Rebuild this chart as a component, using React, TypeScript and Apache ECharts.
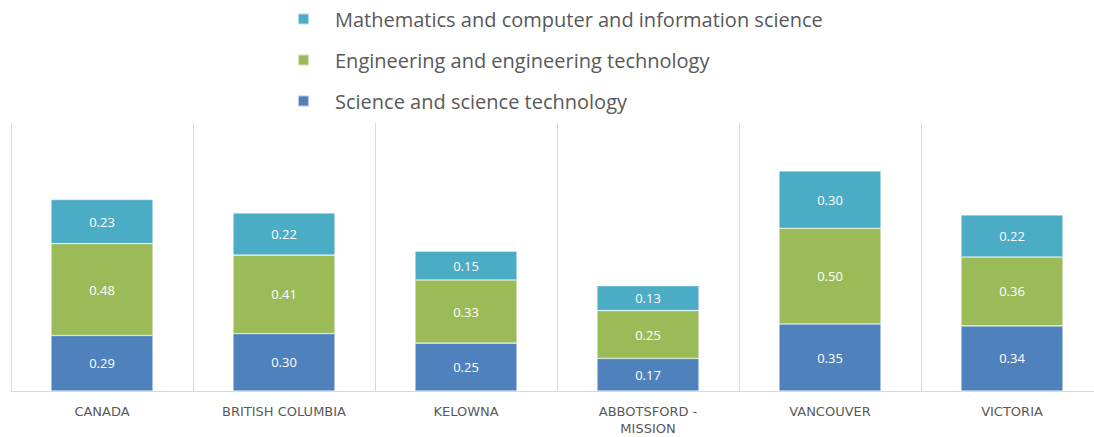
import React, { useEffect, useRef } from "react";
import * as echarts from "echarts";

const categories = ["CANADA", "BRITISH COLUMBIA", "KELOWNA", "ABBOTSFORD - MISSION", "VANCOUVER", "VICTORIA"];
const scienceValues = [0.29, 0.30, 0.25, 0.17, 0.35, 0.34];
const engineeringValues = [0.48, 0.41, 0.33, 0.25, 0.50, 0.36];
const mathValues = [0.23, 0.22, 0.15, 0.13, 0.30, 0.22];
const seriesNames = [
  "Science and science technology",
  "Engineering and engineering technology",
  "Mathematics and computer and information science",
];

const FONT = "'Open Sans', sans-serif";

export default function App() {
  const ref = useRef<HTMLDivElement>(null);
  useEffect(() => {
    if (!ref.current) return;
    const chart = echarts.init(ref.current, undefined, { renderer: "svg" });
    const mk = (name: string, data: number[], color: string) => ({
      name,
      type: "bar",
      stack: "total",
      data,
      barWidth: 102,
      itemStyle: { color, borderColor: "rgba(255,255,255,0.6)", borderWidth: 0.6 },
      label: {
        show: true,
        position: "inside",
        color: "#ffffff",
        fontFamily: FONT,
        fontSize: 13,
        formatter: (p: any) => Number(p.value).toFixed(2),
      },
    });
    chart.setOption({
      animation: false,
      textStyle: { fontFamily: FONT },
      legend: {
        orient: "vertical",
        left: 292,
        top: 0,
        itemWidth: 11,
        itemHeight: 11,
        itemGap: 13,
        icon: "rect",
        data: [seriesNames[2], seriesNames[1], seriesNames[0]],
        textStyle: {
          color: "#595959",
          fontSize: 20,
          lineHeight: 28,
          fontFamily: FONT,
          padding: [0, 0, 0, 21],
        },
      },
      grid: { left: 11, top: 123, width: 1092, height: 268, containLabel: false },
      xAxis: {
        type: "category",
        data: categories,
        axisLine: { lineStyle: { color: "#d9d9d9" } },
        axisTick: { show: false },
        splitLine: { show: true, lineStyle: { color: "#d9d9d9", width: 1 } },
        axisLabel: {
          color: "#595959",
          fontSize: 13,
          fontFamily: "'DejaVu Sans', sans-serif",
          margin: 12,
          lineHeight: 17,
          formatter: (v: string) => v.replace(" - ", " -\n"),
        },
      },
      yAxis: {
        type: "value",
        min: 0,
        max: 1.4,
        show: false,
        splitLine: { show: false },
      },
      series: [
        mk(seriesNames[0], scienceValues, "#4f81bd"),
        mk(seriesNames[1], engineeringValues, "#9bbb59"),
        mk(seriesNames[2], mathValues, "#4bacc6"),
      ],
    });
    return () => chart.dispose();
  }, []);
  return (
    <div
      ref={ref}
      style={{ position: "fixed", left: 0, top: 0, width: 1110, height: 437, background: "#ffffff" }}
    />
  );
}
